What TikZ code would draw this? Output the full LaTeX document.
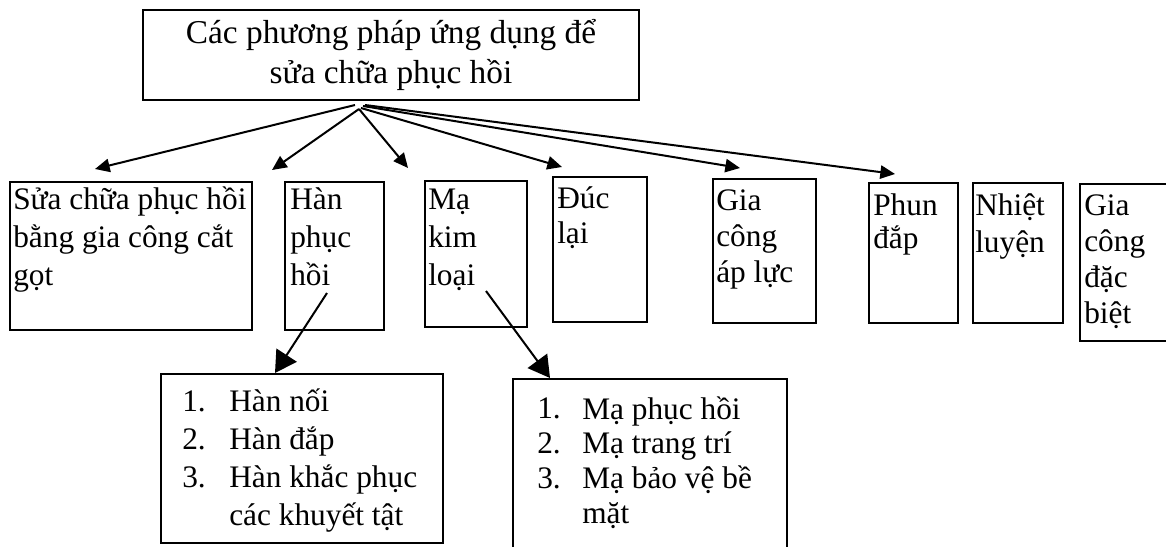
\documentclass[tikz,border=0pt]{standalone}
\usepackage{fontspec}
\setmainfont{Liberation Serif}
\usetikzlibrary{arrows.meta,fit}
\begin{document}
\begin{tikzpicture}[x=0.75pt,y=-0.75pt,
  frame/.style={draw,line width=1.4pt,inner sep=0pt},
  txt/.style={anchor=base west,align=left,inner sep=0pt,font=\fontsize{23.5}{28.5}\selectfont},
  lst/.style={anchor=base west,align=left,inner sep=0pt},
  arr/.style={line width=1.5pt,-{Triangle[length=11pt,width=10pt]}},
  bigarr/.style={line width=1.5pt,-{Triangle[length=16pt,width=18pt]}}]
\useasboundingbox (0,0) rectangle (1166,546);
% top box
\node[frame,fit={(143,10) (639,100)}] (top) {};
\node[anchor=base,align=center,inner sep=0pt,font=\fontsize{25}{30}\selectfont] (toptxt) at (391,83)
  {Các phương pháp ứng dụng để\\sửa chữa phục hồi};
% level boxes
\node[frame,fit={(10,182) (252,330)}] (b1) {};
\node[frame,fit={(285,182) (384,330)}] (b2) {};
\node[frame,fit={(425,181) (527,327)}] (b3) {};
\node[frame,fit={(553,177) (647,322)}] (b4) {};
\node[frame,fit={(713,179) (816,323)}] (b5) {};
\node[frame,fit={(869,183) (958,323)}] (b6) {};
\node[frame,fit={(973,183) (1063,323)}] (b7) {};
\node[frame,fit={(1080,184) (1180,341)}] (b8) {};
% texts (anchored at the baseline of the last line)
\node[txt] (t1) at (13,285) {Sửa chữa phục hồi\\bằng gia công cắt\\gọt};
\node[txt] (t2) at (290,285) {Hàn\\phục\\hồi};
\node[txt] (t3) at (428,285) {Mạ\\kim\\loại};
\node[txt,font=\fontsize{23.5}{26.25}\selectfont] (t4) at (557,243) {Đúc\\lại};
\node[txt,font=\fontsize{23.5}{27}\selectfont] (t5) at (716,282) {Gia\\công\\áp lực};
\node[txt,font=\fontsize{23.5}{24.75}\selectfont] (t6) at (873,248) {Phun\\đắp};
\node[txt,font=\fontsize{23.5}{27.75}\selectfont] (t7) at (975,252) {Nhiệt\\luyện};
\node[txt,font=\fontsize{23.5}{27}\selectfont] (t8) at (1084,323) {Gia\\công\\đặc\\biệt};
% sub boxes
\node[frame,fit={(161,374) (443,543)}] (sa) {};
\node[frame,fit={(513,379) (787,560)}] (sb) {};
\node[lst,font=\fontsize{23.5}{28.3}\selectfont] (na) at (182,487) {1.\\2.\\3.};
\node[lst,font=\fontsize{23.5}{28.3}\selectfont] (la) at (229,525) {Hàn nối\\Hàn đắp\\Hàn khắc phục\\các khuyết tật};
\node[lst,font=\fontsize{23.5}{26}\selectfont] (nb) at (537,488) {1.\\2.\\3.};
\node[lst,font=\fontsize{23.5}{26}\selectfont] (lb) at (582,523) {Mạ phục hồi\\Mạ trang trí\\Mạ bảo vệ bề\\mặt};
% arrow coordinates
\coordinate (s1) at (355,105); \coordinate (e1) at (95,169);
\coordinate (s2) at (359,109); \coordinate (e2) at (272,170);
\coordinate (s3) at (359,109); \coordinate (e3) at (408,168);
\coordinate (s4) at (361,108); \coordinate (e4) at (562,167);
\coordinate (s5) at (363,106); \coordinate (e5) at (740,168);
\coordinate (s6) at (365,105); \coordinate (e6) at (895,174);
\coordinate (s7) at (327,293); \coordinate (e7) at (275,373);
\coordinate (s8) at (486,291); \coordinate (e8) at (550,378);
\draw[arr] (s1) -- (e1);
\draw[arr] (s2) -- (e2);
\draw[arr] (s3) -- (e3);
\draw[arr] (s4) -- (e4);
\draw[arr] (s5) -- (e5);
\draw[arr] (s6) -- (e6);
\draw[bigarr] (s7) -- (e7);
\draw[bigarr] (s8) -- (e8);
\end{tikzpicture}
\end{document}
